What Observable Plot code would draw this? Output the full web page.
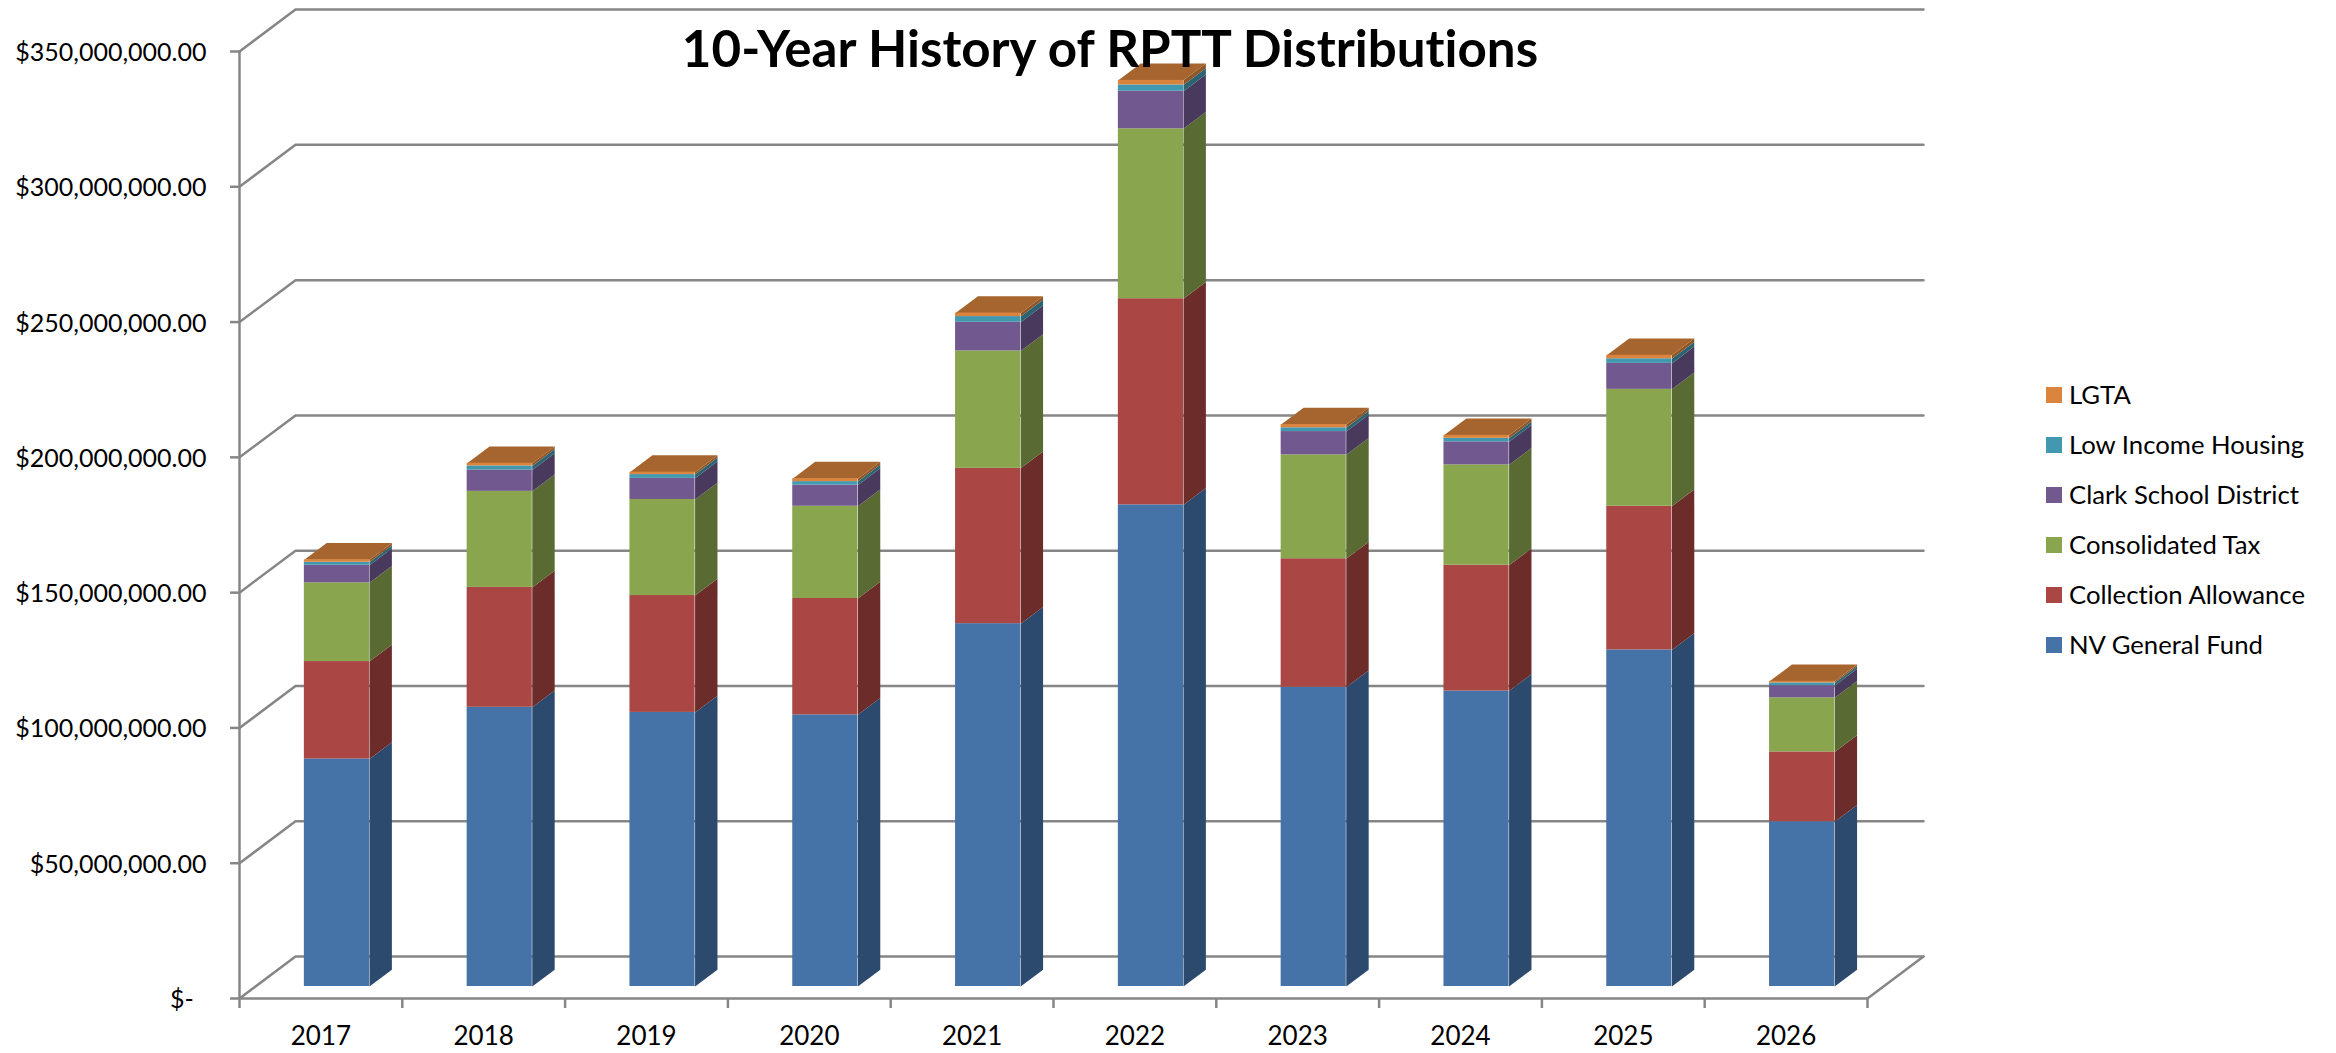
<!DOCTYPE html>
<html>
<head>
<meta charset="utf-8">
<script src="https://cdn.jsdelivr.net/npm/d3@7"></script>
<script src="https://cdn.jsdelivr.net/npm/@observablehq/plot@0.6"></script>
<style>
  html, body { margin: 0; padding: 0; background: #fff; }
  #wrap { position: relative; width: 2336px; height: 1053px; overflow: hidden; font-family: Lato, sans-serif; color: #000; font-variant-ligatures: none; }
  #chart svg { display: block; }
  #title { position: absolute; left: 0; width: 2220px; top: 15px; text-align: center; font-size: 51.1px; font-weight: 700; line-height: 66px; }
  #legend { position: absolute; left: 2046px; top: 369px; }
  #legend div { height: 50px; display: flex; align-items: center; font-size: 25.7px; white-space: nowrap; }
  #legend i { display: block; width: 16px; height: 16px; margin-right: 7px; position: relative; top: 1px; }
</style>
</head>
<body>
<div id="wrap">
  <div id="chart"></div>
  <div id="title">10-Year History of RPTT Distributions</div>
  <div id="legend"></div>
</div>
<script>
const years = [2017, 2018, 2019, 2020, 2021, 2022, 2023, 2024, 2025, 2026];
const seriesNames = ["NV General Fund", "Collection Allowance", "Consolidated Tax", "Clark School District", "Low Income Housing", "LGTA"];
// values in millions of dollars
const nvGeneralFund       = [84.1, 103.2, 101.3, 100.4, 134.1, 178.0, 110.6, 109.2, 124.4, 60.9];
const collectionAllowance = [36.0, 44.3, 43.2, 43.0, 57.4, 76.2, 47.5, 46.5, 53.1, 25.8];
const consolidatedTax     = [29.1, 35.5, 35.5, 34.1, 43.4, 62.8, 38.4, 37.1, 43.2, 20.0];
const clarkSchoolDistrict = [6.5, 7.9, 7.8, 7.8, 10.6, 13.9, 8.6, 8.5, 9.6, 4.5];
const lowIncomeHousing    = [1.1, 1.5, 1.4, 1.3, 2.1, 2.3, 1.4, 1.3, 1.7, 1.0];
const lgta                = [0.9, 1.0, 0.9, 1.1, 1.3, 1.7, 1.2, 1.1, 1.3, 0.6];
const seriesValues = [nvGeneralFund, collectionAllowance, consolidatedTax, clarkSchoolDistrict, lowIncomeHousing, lgta];
const frontColors = ["#4572a7", "#aa4643", "#89a54e", "#71588f", "#4198af", "#db843d"];
const sideColors  = ["#2c4a6e", "#6b2c2a", "#596b33", "#49395d", "#2a6372", "#8f5628"];
const topColor = "#a6652e";
const gridColor = "#868686";
const yTicks = [0, 50, 100, 150, 200, 250, 300, 350].map(d => d * 1e6);

// oblique 3-D projection expressed in data units
const depthX = 0.344, depthY = 15.5e6;
const project = (x, v, d) => ({x: x + depthX * d, y: v + depthY * d});
const barFront = 0.286, barBack = 0.686, barHalf = 0.2;

const fronts = [], sides = [], tops = [];
years.forEach((yr, i) => {
  const xl = i + 0.5 - barHalf, xr = i + 0.5 + barHalf;
  let base = 0;
  seriesNames.forEach((name, s) => {
    const next = base + seriesValues[s][i] * 1e6;
    const a = project(xl, base, barFront), b = project(xr, next, barFront);
    fronts.push({series: name, x1: a.x, x2: b.x, y1: a.y, y2: b.y});
    sides.push(...[
      project(xr, base, barFront), project(xr, base, barBack),
      project(xr, next, barBack), project(xr, next, barFront)
    ].map(p => ({...p, id: yr + name, series: name})));
    base = next;
  });
  tops.push(...[
    project(xl, base, barFront), project(xr, base, barFront),
    project(xr, base, barBack), project(xl, base, barBack)
  ].map(p => ({...p, id: yr})));
});

const walls = yTicks.flatMap(v => [project(0, v, 0), project(0, v, 1), project(10, v, 1)].map(p => ({...p, id: v})));
const fmt = v => v === 0 ? "$-\u00a0\u00a0" : "$" + d3.format(",.2f")(v);
const lineW = 2.5;

const plot = Plot.plot({
  width: 2336,
  height: 1053,
  marginLeft: 239,
  marginRight: 469,
  marginTop: 51,
  marginBottom: 55,
  style: {background: "transparent", fontFamily: "Lato, sans-serif", color: "#000", fontVariantLigatures: "none"},
  x: {domain: [0, 10], axis: null},
  y: {domain: [0, 350e6], axis: null},
  color: {domain: seriesNames, range: frontColors},
  marks: [
    Plot.line(walls, {x: "x", y: "y", z: "id", stroke: gridColor, strokeWidth: lineW}),
    Plot.line([project(10, 0, 0), project(10, 0, 1)], {x: "x", y: "y", stroke: gridColor, strokeWidth: lineW}),
    Plot.ruleX([0], {y1: 0, y2: 350e6, stroke: gridColor, strokeWidth: lineW}),
    Plot.ruleY([0], {x1: 0, x2: 10, stroke: gridColor, strokeWidth: lineW}),
    Plot.ruleY(yTicks, {x1: -0.055, x2: 0, stroke: gridColor, strokeWidth: lineW}),
    Plot.ruleX(d3.range(11), {y1: -3.7e6, y2: 0, stroke: gridColor, strokeWidth: lineW}),
    ...seriesNames.map((name, s) => Plot.line(sides.filter(d => d.series === name), {x: "x", y: "y", z: "id", fill: sideColors[s], stroke: "none"})),
    Plot.line(tops, {x: "x", y: "y", z: "id", fill: topColor, stroke: "none"}),
    Plot.rect(fronts, {x1: "x1", x2: "x2", y1: "y1", y2: "y2", fill: "series"}),
    Plot.axisY(yTicks, {anchor: "left", tickSize: 0, tickPadding: 33, tickFormat: fmt, fontSize: 25, dy: 1.5, label: null}),
    Plot.axisX(years.map((y, i) => i + 0.5), {anchor: "bottom", tickSize: 0, tickPadding: 28, tickFormat: x => String(years[Math.floor(x)]), fontSize: 26, label: null})
  ]
});
document.getElementById("chart").appendChild(plot);

const legend = document.getElementById("legend");
[...seriesNames.keys()].reverse().forEach(s => {
  const row = document.createElement("div");
  const sw = document.createElement("i");
  sw.style.background = frontColors[s];
  row.appendChild(sw);
  row.appendChild(document.createTextNode(seriesNames[s]));
  legend.appendChild(row);
});
</script>
</body>
</html>
